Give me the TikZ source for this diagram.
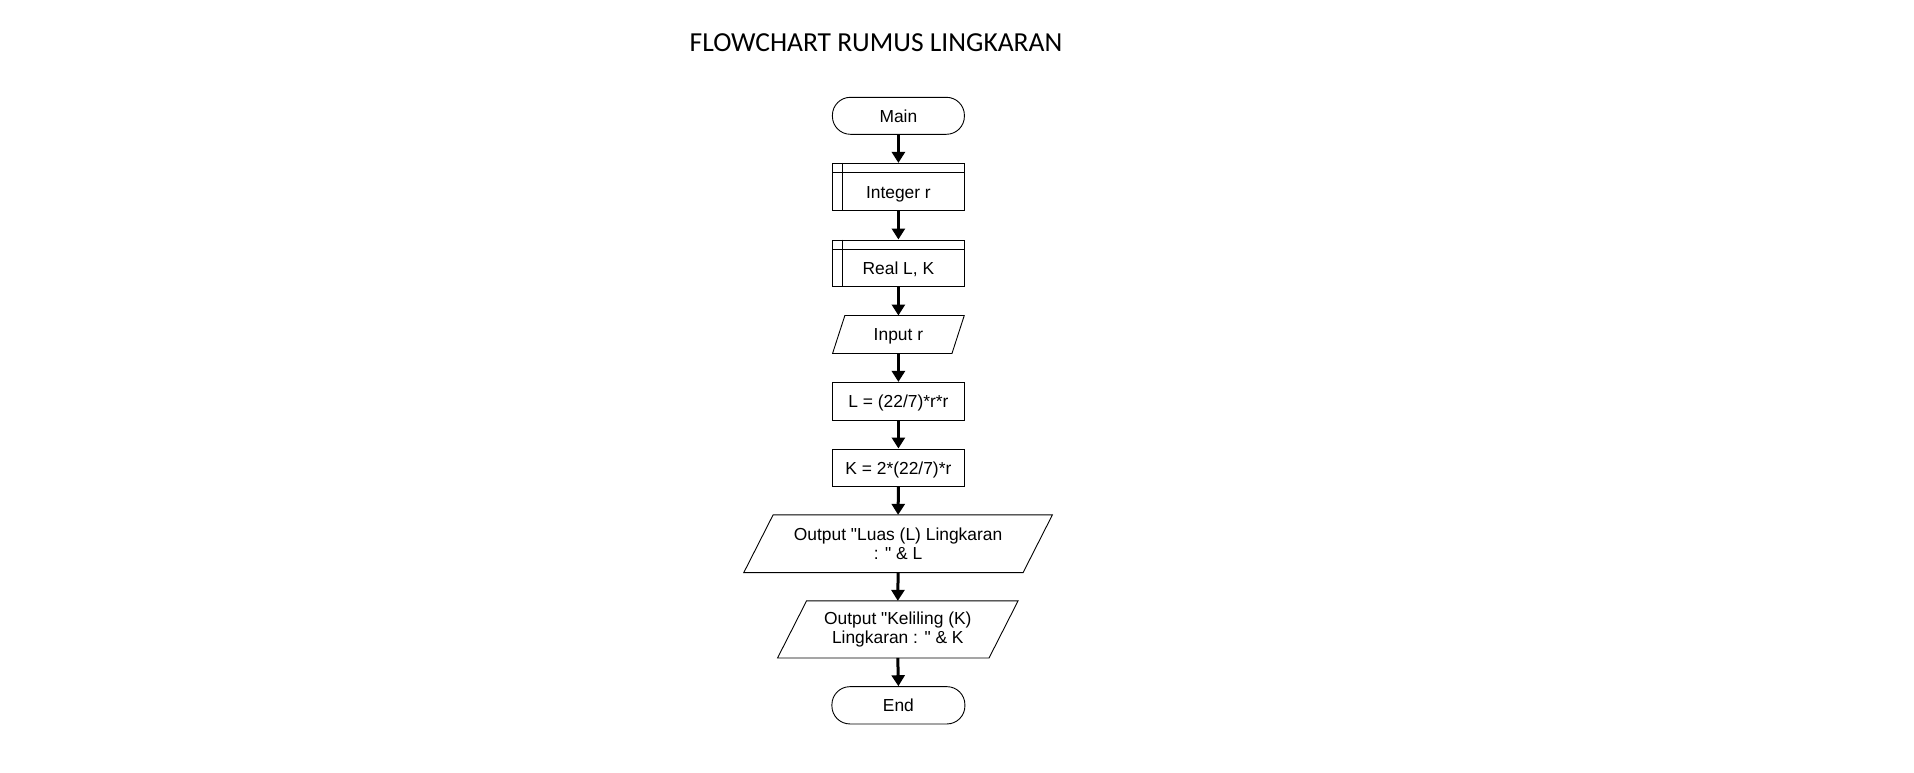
\documentclass[tikz,border=0pt]{standalone}
\usepackage{fontspec}
\setmainfont[Ligatures=TeXOff]{Liberation Sans}
\newfontfamily\titlefont{Carlito}
\usetikzlibrary{arrows.meta,calc}
\newcommand\dq{\symbol{34}}
\newcommand\paraio[2]{%
  \draw[boxline] ([xshift=#2]#1.north west) -- ([xshift=#2]#1.north east)
    -- ([xshift=-#2]#1.south east) -- ([xshift=-#2]#1.south west) -- cycle;}
\begin{document}
\begin{tikzpicture}[x=1pt,y=-1pt,
  boxline/.style={draw=black,line width=0.9pt},
  base/.style={font=\fontsize{17.4}{19}\selectfont,inner sep=0pt,align=center},
  one/.style={base,text height=12.4pt,text depth=0pt},
  term/.style={one,boxline,rounded corners=18pt,minimum width=132pt,minimum height=37pt},
  proc/.style={one,boxline,minimum width=131.3pt,minimum height=37.7pt},
  subr/.style={base,boxline,minimum width=131.3pt,minimum height=46.7pt,text height=23pt,text depth=0pt},
  iobox/.style={base,draw=none},
  flow/.style={line width=3pt,-{Triangle[width=13pt,length=11pt]}}
]
\useasboundingbox[fill=white] (0,0) rectangle (1914,772);
\node[inner sep=0pt,anchor=base,font=\titlefont\fontsize{27.5}{30}\selectfont] (title) at (876,51) {FLOWCHART RUMUS LINGKARAN};

\node[term] (main) at (898.4,115.8) {Main};
\node[subr] (int) at (898.4,186.7) {Integer r};
\node[subr] (real) at (898.4,263.3) {Real L, K};
\node[iobox,one,minimum width=119pt,minimum height=37.6pt] (inp) at (898.4,334.5) {Input r};
\node[proc] (lcalc) at (898.4,401.2) {L = (22/7)*r*r};
\node[proc] (kcalc) at (898.4,467.8) {K = 2*(22/7)*r};
\node[iobox,minimum width=278.9pt,minimum height=57.3pt] (out1) at (898.1,543.7) {Output \dq Luas (L) Lingkaran\\: \dq{} \& L};
\node[iobox,minimum width=211.1pt,minimum height=56.7pt] (out2) at (897.8,629.4) {Output \dq Keliling (K)\\Lingkaran : \dq{} \& K};
\node[term,minimum width=133pt,minimum height=37.3pt] (end) at (898.4,705.3) {End};

% subroutine inner lines
\foreach \n in {int,real}{
  \draw[boxline] ([yshift=-10pt]\n.north west) -- ([yshift=-10pt]\n.north east);
  \draw[boxline] ([xshift=10.6pt]\n.north west) -- ([xshift=10.6pt]\n.south west);
}
\paraio{inp}{6.15pt}
\paraio{out1}{14.65pt}
\paraio{out2}{14.5pt}

\draw[flow] (main.south) -- (int.north);
\draw[flow] (int.south) -- (real.north);
\draw[flow] (real.south) -- (inp.north);
\draw[flow] (inp.south) -- (lcalc.north);
\draw[flow] (lcalc.south) -- (kcalc.north);
\draw[flow] (kcalc.south) -- (out1.north);
\draw[flow] (out1.south) -- (out2.north);
\draw[flow] (out2.south) -- (end.north);
\end{tikzpicture}
\end{document}
